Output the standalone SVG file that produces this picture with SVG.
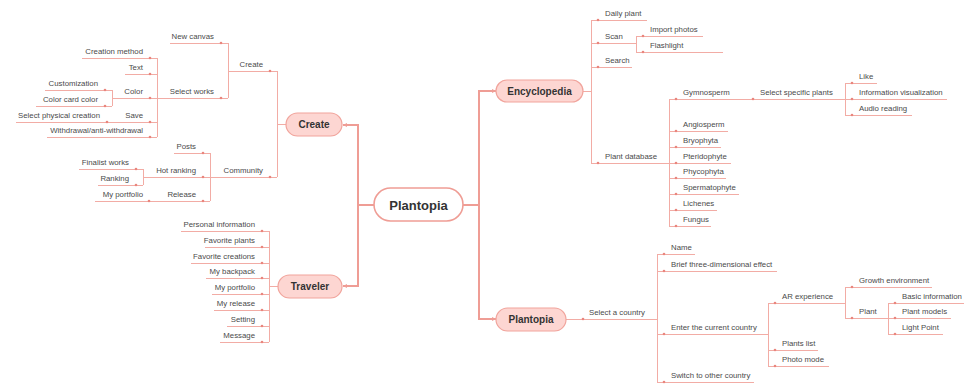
<svg xmlns="http://www.w3.org/2000/svg" width="964" height="384" viewBox="0 0 964 384">
<style>
.t{font-family:"Liberation Sans",Arial,sans-serif;font-size:7.8px;fill:#4a4a4a}
.e{text-anchor:end}
.b{font-family:"Liberation Sans",Arial,sans-serif;font-weight:bold;font-size:10px;fill:#333;text-anchor:middle}
.ln{stroke:#f2aca5;stroke-width:1;fill:none;shape-rendering:crispEdges}
.main{stroke:#ef9d95;stroke-width:2;fill:none}
.m{fill:#e9867e}
.sub{fill:#fdd6d2;stroke:#f1a49c;stroke-width:1.2}
.root{fill:#fff;stroke:#ef9d95;stroke-width:1.6}
</style>
<defs>
<marker id="ar" viewBox="0 0 6 6" refX="6" refY="3" markerWidth="4" markerHeight="4" orient="auto" markerUnits="userSpaceOnUse">
<path d="M0,0 L6,3 L0,6 Z" fill="#ef9d95"/>
</marker>
<circle id="dot" r="1.3" class="m"/>
</defs>
<rect width="964" height="384" fill="#fff"/>
<g id="connectors">
<path class="main" d="M374,205 H358 V125 H343" marker-end="url(#ar)"/>
<path class="main" d="M358,205 V286 H343" marker-end="url(#ar)"/>
<path class="main" d="M463,205 H479 V91 H496" marker-end="url(#ar)"/>
<path class="main" d="M479,205 V319 H496" marker-end="url(#ar)"/>
<path class="ln" d="M228,71 H277 M277,71 V177 M277,124 H286 M170,43 H228 M228,43 V98 M157,98 H228 M82,58 H157 M157,58 V137 M125,74 H157 M112,98 H157 M112,90 V106 M45,90 H112 M36,106 H112 M16,122 H157 M47,137 H157 M210,177 H277 M210,153 V201 M174,153 H210 M143,177 H210 M143,169 V185 M79,169 H143 M98,185 H143 M95,201 H210 M269,286 H278 M269,231 V342 M181,231 H269 M205,247 H269 M191,263 H269 M206,278 H269 M212,294 H269 M214,310 H269 M227,326 H269 M220,342 H269"/>
<path class="ln" d="M583,91 H591 M591,20 V163 M591,20 H647 M591,43 H636 M636,36 V52 M636,36 H703 M636,52 H723 M591,67 H632 M591,163 H669 M669,99 V226 M669,99 H845 M845,83 V115 M845,83 H877 M845,99 H947 M845,115 H912 M669,131 H728 M669,147 H721 M669,163 H731 M669,178 H726 M669,194 H739 M669,210 H717 M669,226 H711 M566,319 H657 M657,254 V382 M657,254 H695 M657,271 H777 M657,334 H768 M657,382 H754 M768,303 V366 M768,303 H845 M845,287 V318 M845,287 H932 M845,318 H888 M888,303 V334 M888,303 H964 M888,318 H951 M888,334 H943 M768,350 H818 M768,366 H829"/>
<g id="markers">
<use href="#dot" x="270" y="71"/><use href="#dot" x="221" y="43"/><use href="#dot" x="221" y="98"/><use href="#dot" x="150" y="58"/><use href="#dot" x="150" y="74"/><use href="#dot" x="150" y="98"/><use href="#dot" x="105" y="90"/><use href="#dot" x="105" y="106"/><use href="#dot" x="150" y="122"/><use href="#dot" x="107" y="122"/><use href="#dot" x="150" y="137"/><use href="#dot" x="270" y="177"/><use href="#dot" x="203" y="153"/><use href="#dot" x="203" y="177"/><use href="#dot" x="136" y="169"/><use href="#dot" x="136" y="185"/><use href="#dot" x="203" y="201"/><use href="#dot" x="149" y="201"/>
<use href="#dot" x="262" y="231"/><use href="#dot" x="262" y="247"/><use href="#dot" x="262" y="263"/><use href="#dot" x="262" y="278"/><use href="#dot" x="262" y="294"/><use href="#dot" x="262" y="310"/><use href="#dot" x="262" y="326"/><use href="#dot" x="262" y="342"/>
<use href="#dot" x="598" y="20"/><use href="#dot" x="598" y="43"/><use href="#dot" x="643" y="36"/><use href="#dot" x="643" y="52"/><use href="#dot" x="598" y="67"/><use href="#dot" x="598" y="163"/><use href="#dot" x="676" y="99"/><use href="#dot" x="753" y="99"/><use href="#dot" x="852" y="83"/><use href="#dot" x="852" y="99"/><use href="#dot" x="852" y="115"/><use href="#dot" x="676" y="131"/><use href="#dot" x="676" y="147"/><use href="#dot" x="676" y="163"/><use href="#dot" x="676" y="178"/><use href="#dot" x="676" y="194"/><use href="#dot" x="676" y="210"/><use href="#dot" x="676" y="226"/>
<use href="#dot" x="583" y="319"/><use href="#dot" x="664" y="254"/><use href="#dot" x="664" y="271"/><use href="#dot" x="664" y="334"/><use href="#dot" x="664" y="382"/><use href="#dot" x="775" y="303"/><use href="#dot" x="852" y="287"/><use href="#dot" x="852" y="318"/><use href="#dot" x="895" y="303"/><use href="#dot" x="895" y="318"/><use href="#dot" x="895" y="334"/><use href="#dot" x="775" y="350"/><use href="#dot" x="775" y="366"/>
</g>
</g>
<g id="n-root"><rect class="root" x="374" y="188" width="89" height="33" rx="16.5"/><text class="b" x="418.5" y="209.5" style="font-size:13px">Plantopia</text></g>
<g id="n-create"><rect class="sub" x="286" y="113" width="56" height="23" rx="11.5"/><text class="b" x="314" y="128">Create</text></g>
<g id="n-traveler"><rect class="sub" x="278" y="275" width="64" height="23" rx="11.5"/><text class="b" x="310" y="290">Traveler</text></g>
<g id="n-encyclopedia"><rect class="sub" x="496" y="80" width="87" height="22" rx="11"/><text class="b" x="539.5" y="94.5">Encyclopedia</text></g>
<g id="n-plantopia2"><rect class="sub" x="496" y="308" width="70" height="23" rx="11.5"/><text class="b" x="531" y="323">Plantopia</text></g>
<g id="left-labels">
<g id="l-create"><text class="t e" x="263" y="67">Create</text></g>
<g id="l-newcanvas"><text class="t e" x="214" y="39">New canvas</text></g>
<g id="l-selectworks"><text class="t e" x="214" y="94">Select works</text></g>
<g id="l-creationmethod"><text class="t e" x="143" y="54">Creation method</text></g>
<g id="l-text"><text class="t e" x="143" y="70">Text</text></g>
<g id="l-color"><text class="t e" x="143" y="94">Color</text></g>
<g id="l-customization"><text class="t e" x="98" y="86">Customization</text></g>
<g id="l-colorcard"><text class="t e" x="98" y="102">Color card color</text></g>
<g id="l-save"><text class="t e" x="143" y="118">Save</text></g>
<g id="l-selectphysical"><text class="t e" x="100" y="118">Select physical creation</text></g>
<g id="l-withdrawal"><text class="t e" x="143" y="133">Withdrawal/anti-withdrawal</text></g>
<g id="l-community"><text class="t e" x="263" y="173">Community</text></g>
<g id="l-posts"><text class="t e" x="196" y="149">Posts</text></g>
<g id="l-hotranking"><text class="t e" x="196" y="173">Hot ranking</text></g>
<g id="l-finalist"><text class="t e" x="129" y="165">Finalist works</text></g>
<g id="l-ranking"><text class="t e" x="129" y="181">Ranking</text></g>
<g id="l-release"><text class="t e" x="196" y="197">Release</text></g>
<g id="l-myportfolio1"><text class="t e" x="143" y="197">My portfolio</text></g>
<g id="l-personal"><text class="t e" x="255" y="227">Personal information</text></g>
<g id="l-favplants"><text class="t e" x="255" y="243">Favorite plants</text></g>
<g id="l-favcreations"><text class="t e" x="255" y="259">Favorite creations</text></g>
<g id="l-backpack"><text class="t e" x="255" y="274">My backpack</text></g>
<g id="l-myportfolio2"><text class="t e" x="255" y="290">My portfolio</text></g>
<g id="l-myrelease"><text class="t e" x="255" y="306">My release</text></g>
<g id="l-setting"><text class="t e" x="255" y="322">Setting</text></g>
<g id="l-message"><text class="t e" x="255" y="338">Message</text></g>
</g>
<g id="right-labels">
<g id="r-daily"><text class="t" x="605" y="16">Daily plant</text></g>
<g id="r-scan"><text class="t" x="605" y="39">Scan</text></g>
<g id="r-import"><text class="t" x="650" y="32">Import photos</text></g>
<g id="r-flash"><text class="t" x="650" y="48">Flashlight</text></g>
<g id="r-search"><text class="t" x="605" y="63">Search</text></g>
<g id="r-plantdb"><text class="t" x="605" y="159">Plant database</text></g>
<g id="r-gymno"><text class="t" x="683" y="95">Gymnosperm</text></g>
<g id="r-selectspecific"><text class="t" x="760" y="95">Select specific plants</text></g>
<g id="r-like"><text class="t" x="859" y="79">Like</text></g>
<g id="r-infovis"><text class="t" x="859" y="95">Information visualization</text></g>
<g id="r-audio"><text class="t" x="859" y="111">Audio reading</text></g>
<g id="r-angio"><text class="t" x="683" y="127">Angiosperm</text></g>
<g id="r-bryo"><text class="t" x="683" y="143">Bryophyta</text></g>
<g id="r-pterido"><text class="t" x="683" y="159">Pteridophyte</text></g>
<g id="r-phyco"><text class="t" x="683" y="174">Phycophyta</text></g>
<g id="r-sperma"><text class="t" x="683" y="190">Spermatophyte</text></g>
<g id="r-lichenes"><text class="t" x="683" y="206">Lichenes</text></g>
<g id="r-fungus"><text class="t" x="683" y="222">Fungus</text></g>
<g id="r-selectcountry"><text class="t" x="589" y="315">Select a country</text></g>
<g id="r-name"><text class="t" x="671" y="250">Name</text></g>
<g id="r-brief"><text class="t" x="671" y="267">Brief three-dimensional effect</text></g>
<g id="r-enter"><text class="t" x="671" y="330">Enter the current country</text></g>
<g id="r-switch"><text class="t" x="671" y="378">Switch to other country</text></g>
<g id="r-ar"><text class="t" x="782" y="299">AR experience</text></g>
<g id="r-growth"><text class="t" x="859" y="283">Growth environment</text></g>
<g id="r-plant"><text class="t" x="859" y="314">Plant</text></g>
<g id="r-basic"><text class="t" x="902" y="299">Basic information</text></g>
<g id="r-models"><text class="t" x="902" y="314">Plant models</text></g>
<g id="r-light"><text class="t" x="902" y="330">Light Point</text></g>
<g id="r-plantslist"><text class="t" x="782" y="346">Plants list</text></g>
<g id="r-photo"><text class="t" x="782" y="362">Photo mode</text></g>
</g>
</svg>
